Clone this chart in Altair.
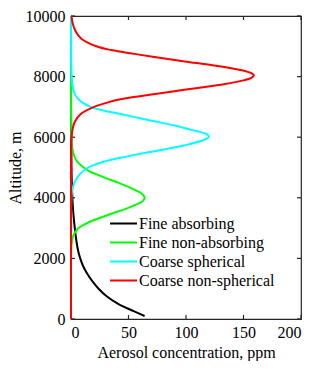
import altair as alt
import pandas as pd

series_names = ["Fine absorbing", "Fine non-absorbing", "Coarse spherical", "Coarse non-spherical"]
series_colors = ["#000000", "#00ff00", "#00ffff", "#ff0000"]

black_alt = [100, 250, 500, 750, 1000, 1250, 1500, 1750, 2000, 2250, 2500, 3000, 3500, 4000, 4500, 5000, 6000, 8000, 10000]
black_val = [64, 55, 41, 31, 24, 18.5, 14, 10.5, 8, 6.2, 5, 3.3, 2, 1.2, 0.7, 0.4, 0.15, 0, 0]

green_alt = [0, 1000, 2000, 2250, 2500, 2750, 3000, 3125, 3250, 3375, 3500, 3625, 3750, 3875, 4000, 4125, 4250, 4375, 4500, 4625, 4750, 4875, 5000, 5250, 5500, 5750, 6000, 7000, 8000, 10000]
green_val = [0, 0, 0, 0.2, 0.6, 2, 6.5, 12, 19, 28, 37, 47, 55, 62, 64, 62, 56, 49, 41, 32, 24, 16, 11, 4.4, 1.8, 0.7, 0.3, 0, 0, 0]

cyan_alt = [0, 2000, 3000, 3500, 4000, 4250, 4500, 4750, 5000, 5125, 5250, 5375, 5500, 5625, 5750, 5875, 5950, 6020, 6100, 6175, 6250, 6375, 6500, 6625, 6750, 6875, 7000, 7250, 7500, 7750, 8000, 8500, 9000, 10000]
cyan_val = [0, 0, 0, 0.1, 0.4, 1, 3, 7, 15, 23, 34, 50, 67, 85, 101, 113, 118, 120, 118, 112, 104, 91, 76, 60, 45, 29, 17, 6.5, 2.5, 1.2, 0.6, 0.2, 0.1, 0]

red_alt = [0, 1000, 2000, 3000, 4000, 5000, 5500, 6000, 6250, 6500, 6750, 7000, 7125, 7250, 7375, 7500, 7625, 7750, 7875, 7950, 8030, 8100, 8175, 8250, 8375, 8500, 8625, 8750, 8875, 9000, 9250, 9500, 9750, 10000]
red_val = [0, 0, 0, 0, 0, 0.1, 0.2, 0.5, 1.3, 3.2, 8, 20, 30, 43, 64, 87, 110, 133, 150, 156.5, 159, 157.5, 152, 143, 123, 99, 77, 55, 35, 22, 9, 4, 1.5, 0.5]

x_ticks = [0, 50, 100, 150, 200]
y_ticks = [0, 2000, 4000, 6000, 8000, 10000]

rows = []
for name, alts, vals in zip(series_names,
                            [black_alt, green_alt, cyan_alt, red_alt],
                            [black_val, green_val, cyan_val, red_val]):
    for a, v in zip(alts, vals):
        rows.append({"series": name, "alt": a, "val": v})
df = pd.DataFrame(rows)

xt_df = pd.DataFrame({"val": x_ticks})
yt_df = pd.DataFrame({"alt": y_ticks})

W, H = 230, 303
FONT = "Times New Roman, Liberation Serif, DejaVu Serif, serif"
FS = 16
FRAME = "#262626"
TICK = 4

x_scale = alt.Scale(domain=[0, 200], nice=False, zero=False)
y_scale = alt.Scale(domain=[0, 10000], nice=False, zero=False)
color_scale = alt.Scale(domain=series_names, range=series_colors)

x_axis = alt.Axis(values=x_ticks, ticks=False, domain=False, grid=False,
                  labelFont=FONT, labelFontSize=FS, labelColor="black", labelPadding=5,
                  title="Aerosol concentration, ppm", titleFont=FONT, titleFontSize=FS,
                  titleFontWeight="normal", titleColor="black", titlePadding=4)
y_axis = alt.Axis(values=y_ticks, format="d", ticks=False, domain=False, grid=False,
                  labelFont=FONT, labelFontSize=FS, labelColor="black", labelPadding=6,
                  title="Altitude, m", titleFont=FONT, titleFontSize=FS,
                  titleFontWeight="normal", titleColor="black", titlePadding=2)

legend = alt.Legend(title=None, orient="none", legendX=38, legendY=199,
                    symbolType="stroke", symbolSize=729, symbolStrokeWidth=2,
                    labelFont=FONT, labelFontSize=FS, labelColor="black",
                    labelOffset=1, rowPadding=2, padding=0, clipHeight=17)


def line_layer(name):
    return alt.Chart(df).transform_filter(alt.datum.series == name).mark_line(
        strokeWidth=2, interpolate="catmull-rom"
    ).encode(
        x=alt.X("val:Q", scale=x_scale, axis=x_axis),
        y=alt.Y("alt:Q", scale=y_scale, axis=y_axis),
        color=alt.Color("series:N", scale=color_scale, legend=legend),
        order=alt.Order("alt:Q"),
    )


bottom_ticks = alt.Chart(xt_df).mark_rule(color=FRAME, strokeWidth=1.2).encode(
    x=alt.X("val:Q", scale=x_scale, axis=x_axis),
    y=alt.value(H), y2=alt.value(H - TICK))
top_ticks = alt.Chart(xt_df).mark_rule(color=FRAME, strokeWidth=1.2).encode(
    x=alt.X("val:Q", scale=x_scale, axis=x_axis),
    y=alt.value(0), y2=alt.value(TICK))
left_ticks = alt.Chart(yt_df).mark_rule(color=FRAME, strokeWidth=1.2).encode(
    y=alt.Y("alt:Q", scale=y_scale, axis=y_axis),
    x=alt.value(0), x2=alt.value(TICK))
right_ticks = alt.Chart(yt_df).mark_rule(color=FRAME, strokeWidth=1.2).encode(
    y=alt.Y("alt:Q", scale=y_scale, axis=y_axis),
    x=alt.value(W), x2=alt.value(W - TICK))

chart = alt.layer(
    bottom_ticks, top_ticks, left_ticks, right_ticks,
    *[line_layer(n) for n in series_names]
).properties(
    width=W, height=H,
    autosize=alt.AutoSizeParams(type="none"),
    padding={"left": 63, "top": 8, "right": 10, "bottom": 42},
    background="white",
).configure_view(
    stroke=FRAME, strokeWidth=1.2
)

chart.save("out.html", embed_options={"renderer": "svg", "actions": False})
